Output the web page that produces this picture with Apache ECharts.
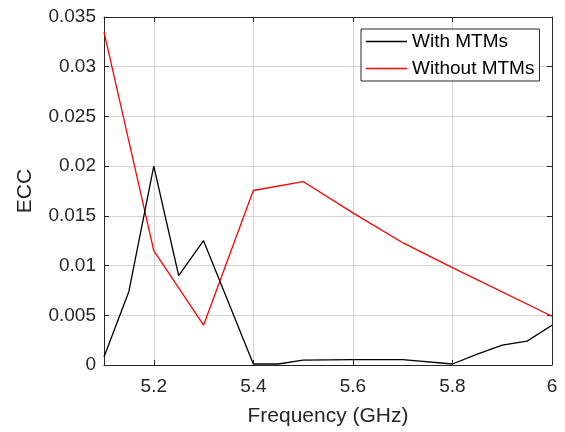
<!DOCTYPE html>
<html>
<head>
<meta charset="utf-8">
<script src="https://cdn.jsdelivr.net/npm/echarts@6/dist/echarts.min.js"></script>
<style>
  html, body { margin: 0; padding: 0; background: #fff; }
  #chart { width: 565px; height: 432px; }
</style>
</head>
<body>
<div id="chart"></div>
<script>
// frequency points (GHz)
const freqWith = [5.1, 5.15, 5.2, 5.25, 5.3, 5.4, 5.45, 5.5, 5.6, 5.7, 5.8, 5.85, 5.9, 5.95, 6.0]
const eccWith = [0.0008, 0.0074, 0.02, 0.009, 0.0125, 0.0001, 0.0001, 0.0005, 0.00055, 0.00055, 0.0001, 0.0011, 0.002, 0.0024, 0.004]
const freqWithout = [5.1, 5.2, 5.3, 5.4, 5.5, 5.6, 5.7, 5.8, 6.0]
const eccWithout = [0.0335, 0.0115, 0.004, 0.01755, 0.01845, 0.0153, 0.0123, 0.0098, 0.0049]
const xTicks = [5.2, 5.4, 5.6, 5.8, 6.0]
const seriesNames = ['With MTMs', 'Without MTMs']

const font = 'Liberation Sans, Arial, Helvetica, sans-serif'
const axisColor = '#262626'
const gridColor = '#d4d4d4'

const chart = echarts.init(document.getElementById('chart'))

const option = {
  animation: false,
  textStyle: { fontFamily: font },
  grid: { left: 104, right: 13, top: 17, bottom: 64 },
  legend: {
    orient: 'vertical',
    left: 361,
    top: 29,
    padding: [3, 5, 3, 5],
    itemGap: 8,
    itemWidth: 41,
    itemHeight: 1.5,
    icon: 'rect',
    borderColor: '#262626',
    borderWidth: 1,
    backgroundColor: '#fff',
    textStyle: { fontSize: 19, color: '#000', fontFamily: font },
    data: seriesNames
  },
  xAxis: [
    {
      type: 'value',
      min: 5.1,
      max: 6,
      name: 'Frequency (GHz)',
      nameLocation: 'middle',
      nameGap: 41,
      nameTextStyle: { fontSize: 21, color: axisColor },
      axisLine: { onZero: false, lineStyle: { color: axisColor } },
      axisTick: { inside: true, length: 5, customValues: xTicks, lineStyle: { color: axisColor } },
      axisLabel: {
        customValues: xTicks,
        fontSize: 19,
        color: axisColor,
        margin: 12,
        formatter: v => (Math.round(v * 10) / 10).toString()
      },
      splitLine: { show: true, lineStyle: { color: gridColor } }
    },
    {
      type: 'value',
      position: 'top',
      min: 5.1,
      max: 6,
      axisLine: { onZero: false, lineStyle: { color: axisColor } },
      axisTick: { inside: true, length: 5, customValues: xTicks, lineStyle: { color: axisColor } },
      axisLabel: { show: false },
      splitLine: { show: false }
    }
  ],
  yAxis: [
    {
      type: 'value',
      min: 0,
      max: 0.035,
      interval: 0.005,
      name: 'ECC',
      nameLocation: 'middle',
      nameGap: 68,
      nameTextStyle: { fontSize: 21, color: axisColor },
      axisLine: { show: true, onZero: false, lineStyle: { color: axisColor } },
      axisTick: { show: true, inside: true, length: 5, lineStyle: { color: axisColor } },
      axisLabel: { fontSize: 19, color: axisColor, margin: 8 },
      splitLine: { show: true, lineStyle: { color: gridColor } }
    },
    {
      type: 'value',
      position: 'right',
      min: 0,
      max: 0.035,
      interval: 0.005,
      axisLine: { show: true, onZero: false, lineStyle: { color: axisColor } },
      axisTick: { show: true, inside: true, length: 5, lineStyle: { color: axisColor } },
      axisLabel: { show: false },
      splitLine: { show: false }
    }
  ],
  series: [
    {
      name: seriesNames[0],
      type: 'line',
      symbol: 'none',
      data: freqWith.map((f, i) => [f, eccWith[i]]),
      lineStyle: { color: '#000', width: 1.3 },
      itemStyle: { color: '#000' },
      z: 3
    },
    {
      name: seriesNames[1],
      type: 'line',
      symbol: 'none',
      data: freqWithout.map((f, i) => [f, eccWithout[i]]),
      lineStyle: { color: '#ff0000', width: 1.3 },
      itemStyle: { color: '#ff0000' },
      z: 2
    }
  ]
}

chart.setOption(option)
window.addEventListener('resize', () => chart.resize())
</script>
</body>
</html>
